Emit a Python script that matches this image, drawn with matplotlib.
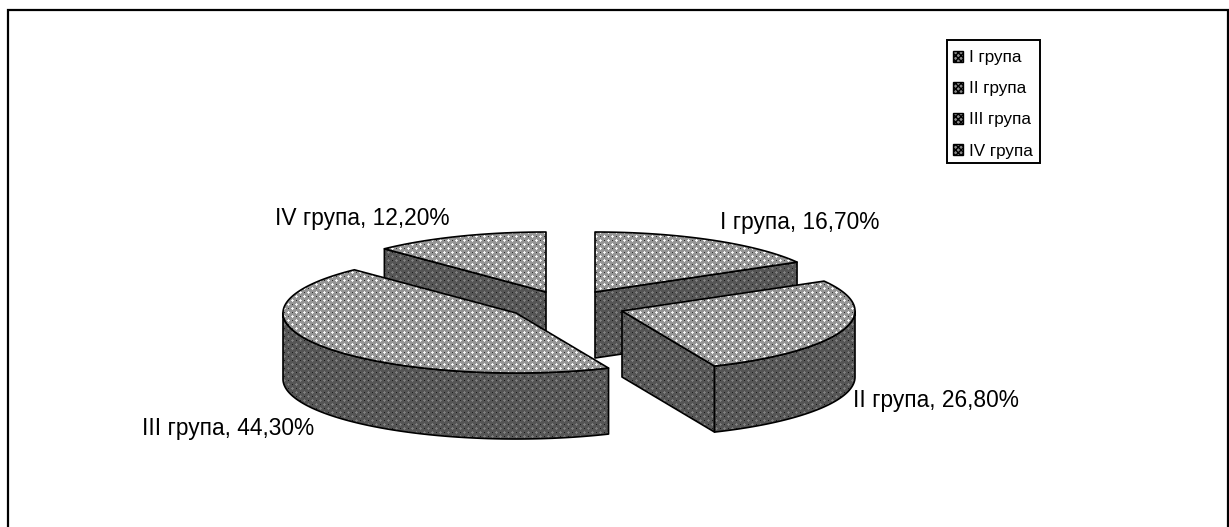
import numpy as np
import matplotlib
matplotlib.use("Agg")
import matplotlib.pyplot as plt
from matplotlib.patches import Polygon, Patch, Rectangle

plt.rcParams['font.family'] = ['Liberation Sans', 'DejaVu Sans']

groups = ["I група", "II група", "III група", "IV група"]
shares = [16.7, 26.8, 44.3, 12.2]
apexes = [(595, 292), (622, 311), (516, 313), (546, 292)]   # exploded slice positions, px
label_pos = [(720, 222), (853, 401), (142, 428), (275, 218)]
draw_order = [0, 3, 2, 1]

W, H = 1229, 527
RX, RY, DEPTH = 233, 60, 66

fig = plt.figure(figsize=(W / 100, H / 100), dpi=100)
ax = fig.add_axes([0, 0, 1, 1])
ax.set_xlim(0, W)
ax.set_ylim(H, 0)
ax.axis('off')


def texture(base, light, dark):
    t = np.full((8, 8), float(base))
    for cx, cy in [(0, 0), (4, 4)]:
        t[cy, cx] = light
        arm = base + (light - base) * 0.85
        t[cy, (cx + 1) % 8] = t[cy, (cx - 1) % 8] = arm
        t[(cy + 1) % 8, cx] = t[(cy - 1) % 8, cx] = arm
    for cx, cy in [(4, 0), (0, 4)]:
        t[cy, cx] = dark
    return np.tile(t, (H // 8 + 1, W // 8 + 1))[:H, :W]


TOP = texture(150, 255, 45)
SIDE = texture(85, 130, 25)


def face(xy, tex):
    poly = Polygon(xy, closed=True, facecolor='none', edgecolor='none', zorder=3)
    ax.add_patch(poly)
    im = ax.imshow(tex, cmap='gray', vmin=0, vmax=255, extent=(0, W, H, 0),
                   interpolation='nearest', aspect='auto', zorder=3)
    im.set_clip_path(poly)
    ax.add_patch(Polygon(xy, closed=True, facecolor='none', edgecolor='black', lw=1.2,
                         zorder=3, joinstyle='round'))


def rim(cx, cy, a):
    return cx + RX * np.sin(a), cy - RY * np.cos(a)


edges = np.cumsum([0] + shares) / sum(shares) * 2 * np.pi
for i in draw_order:
    cx, cy = apexes[i]
    a, b = edges[i], edges[i + 1]
    # radial walls that face the viewer
    for ang, visible in [(a, np.sin(a) < -1e-6), (b, np.sin(b) > 1e-6)]:
        if visible:
            x, y = rim(cx, cy, ang)
            face([(cx, cy), (x, y), (x, y + DEPTH), (cx, cy + DEPTH)], SIDE)
    # outer wall (front half of the ellipse)
    lo, hi = max(a, np.pi / 2), min(b, 3 * np.pi / 2)
    if hi > lo:
        t = np.linspace(lo, hi, 120)
        x, y = rim(cx, cy, t)
        face(np.r_[np.c_[x, y], np.c_[x[::-1], y[::-1] + DEPTH]], SIDE)
    # top
    t = np.linspace(a, b, 200)
    x, y = rim(cx, cy, t)
    face(np.r_[[(cx, cy)], np.c_[x, y]], TOP)

for name, share, (lx, ly) in zip(groups, shares, label_pos):
    ax.text(lx, ly, f"{name}, {share:.2f}%".replace('.', ','), fontsize=16.4,
            ha='left', va='center', color='black', zorder=5)

# chart frame (open at the bottom, as in the reference)
ax.plot([7.5, 7.5, 1227.5, 1227.5], [H, 10, 10, H], color='black', lw=1.6, zorder=6,
        solid_joinstyle='miter', clip_on=False)

# legend box and entries
ax.add_patch(Rectangle((947, 40), 93, 123, facecolor='white', edgecolor='black', lw=1.4, zorder=6))
handles = [Patch(facecolor='#8a8a8a', edgecolor='black', hatch='xxxxxx', lw=1.0) for _ in groups]
leg = ax.legend(handles, groups, loc='upper left', bbox_to_anchor=(947, 44.4),
                bbox_transform=ax.transData, fontsize=12.3, frameon=False,
                borderpad=0.35, labelspacing=0.94,
                handlelength=0.6, handleheight=0.6, handletextpad=0.34, borderaxespad=0)
leg.set_zorder(7)

fig.savefig("out.png", dpi=100, facecolor='white')
